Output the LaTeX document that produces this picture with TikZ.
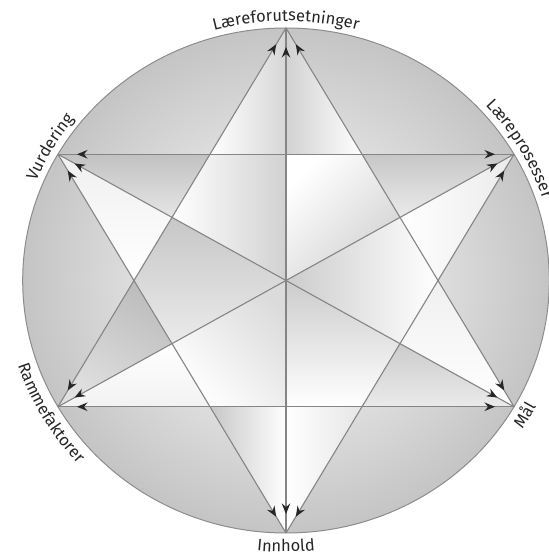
\documentclass[tikz,border=0pt]{standalone}
\usepackage{fontspec}
\setmainfont{Fira Sans}
\usetikzlibrary{arrows.meta,decorations.markings,decorations.text,calc}
\newcommand\fct[4]{\shade[top color=#2, bottom color=#3, shading angle=#4] #1;}
\begin{document}
\begin{tikzpicture}[x=1pt,y=1pt,
  conn/.style={draw=black!48, line width=1.1pt, postaction={decorate},
    decoration={markings,
      mark=at position 19pt with {\arrowreversed{Stealth[length=10.5pt,width=8.5pt,inset=3.5pt,color=black!85]}},
      mark=at position -19pt with {\arrow{Stealth[length=10.5pt,width=8.5pt,inset=3.5pt,color=black!85]}}}},
  rim/.style={draw=black!45, line width=1pt},
  lbl/.style={decorate, decoration={text along path, text align=center, text={|\fontsize{16.5}{18}\selectfont\color{black!85}|#1}}}
]
\useasboundingbox (0,0) rectangle (549,555);
\coordinate (O) at (286,274.5);
\foreach \a/\n in {90/T,30/TR,-30/BR,-90/B,-150/BL,150/TL}
  \coordinate (\n) at ($(O)+(\a:263.3pt and 252.5pt)$);
\foreach \a in {0,60,120,180,240,300}
  \coordinate (I\a) at ($(O)+(\a:152.02pt and 145.78pt)$);
\foreach \a in {30,90,150,210,270,330}
  \coordinate (M\a) at ($(O)+(\a:131.65pt and 126.25pt)$);

% base
\shade[inner color=white, outer color=black!23] (O) ellipse [x radius=263.3pt, y radius=252.5pt];

% facets
\fct{(T)--(I120)--(M90)--cycle}{black!16}{white}{-90}
\fct{(T)--(M90)--(I60)--cycle}{black!18}{white}{90}
\fct{(TL)--(I120)--(M150)--cycle}{black!24}{black!10}{0}
\fct{(TL)--(M150)--(I180)--cycle}{black!6}{white}{0}
\fct{(TR)--(I60)--(M30)--cycle}{black!22}{black!8}{0}
\fct{(TR)--(M30)--(I0)--cycle}{black!8}{white}{-90}
\fct{(BL)--(I180)--(M210)--cycle}{black!26}{black!12}{-30}
\fct{(BL)--(M210)--(I240)--cycle}{white}{black!5}{0}
\fct{(BR)--(I0)--(M330)--cycle}{black!6}{white}{0}
\fct{(BR)--(M330)--(I300)--cycle}{black!20}{black!8}{0}
\fct{(B)--(I240)--(M270)--cycle}{black!22}{white}{90}
\fct{(B)--(M270)--(I300)--cycle}{black!10}{white}{-90}
\fct{(O)--(M90)--(I120)--(M150)--cycle}{black!18}{white}{-90}
\fct{(O)--(M30)--(I60)--(M90)--cycle}{black!18}{white}{-135}
\fct{(O)--(M150)--(I180)--(M210)--cycle}{black!22}{black!8}{0}
\fct{(O)--(M330)--(I0)--(M30)--cycle}{black!20}{white}{90}
\fct{(O)--(M270)--(I300)--(M330)--cycle}{black!20}{white}{0}
\fct{(O)--(M210)--(I240)--(M270)--cycle}{black!14}{white}{-45}

% rim
\draw[rim] (O) ellipse [x radius=263.3pt, y radius=252.5pt];

% connectors
\draw[conn] (T) -- (BL);
\draw[conn] (T) -- (BR);
\draw[conn] (BL) -- (BR);
\draw[conn] (B) -- (TL);
\draw[conn] (B) -- (TR);
\draw[conn] (TL) -- (TR);
\draw[conn] (T) -- (B);
\draw[conn] (TL) -- (BR);
\draw[conn] (TR) -- (BL);

% labels
\path[lbl=Læreforutsetninger] ($(O)+(130:270.3pt and 259.5pt)$) arc[start angle=130, end angle=50, x radius=270.3pt, y radius=259.5pt];
\path[lbl=Vurdering] ($(O)+(190:270.3pt and 259.5pt)$) arc[start angle=190, end angle=110, x radius=270.3pt, y radius=259.5pt];
\path[lbl=Læreprosesser] ($(O)+(70:270.3pt and 259.5pt)$) arc[start angle=70, end angle=-10, x radius=270.3pt, y radius=259.5pt];
\path[lbl=Rammefaktorer] ($(O)+(170:282.3pt and 271.5pt)$) arc[start angle=170, end angle=250, x radius=282.3pt, y radius=271.5pt];
\path[lbl=Innhold] ($(O)+(230:282.3pt and 271.5pt)$) arc[start angle=230, end angle=310, x radius=282.3pt, y radius=271.5pt];
\path[lbl=Mål] ($(O)+(290:282.3pt and 271.5pt)$) arc[start angle=290, end angle=370, x radius=282.3pt, y radius=271.5pt];
\end{tikzpicture}
\end{document}
